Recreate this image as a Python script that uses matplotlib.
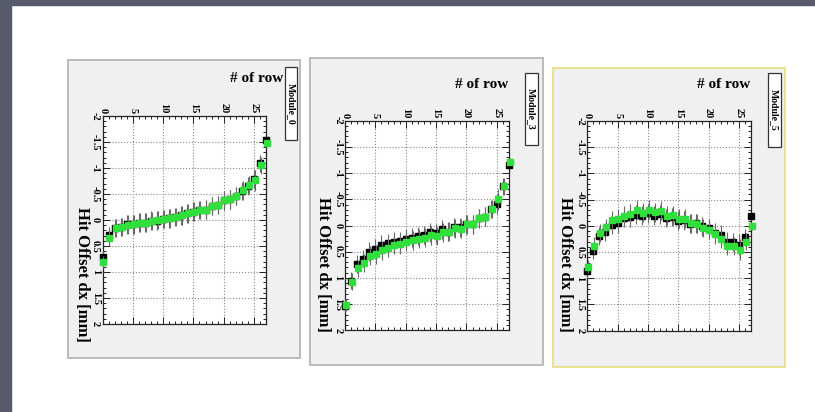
import numpy as np
import matplotlib.pyplot as plt
from matplotlib.patches import Rectangle
from matplotlib.ticker import MultipleLocator

W, H = 815, 412

# data: hit offset dx [mm] per row (black = series 1, green = series 2)
rows = np.arange(28)

m0_black = [0.72, 0.29, 0.16, 0.13, 0.08, 0.08, 0.05, 0.05, 0.01, 0.01, -0.02, -0.03, -0.06, -0.09,
            -0.13, -0.16, -0.19, -0.20, -0.27, -0.29, -0.38, -0.40, -0.46, -0.56, -0.65, -0.79, -1.09, -1.54]
m0_green = [0.81, 0.34, 0.16, 0.13, 0.09, 0.08, 0.05, 0.05, 0.02, 0.00, -0.02, -0.03, -0.06, -0.09,
            -0.13, -0.16, -0.19, -0.20, -0.27, -0.29, -0.38, -0.40, -0.46, -0.57, -0.67, -0.76, -1.05, -1.48]

m3_black = [1.53, 1.05, 0.73, 0.63, 0.50, 0.44, 0.37, 0.34, 0.31, 0.30, 0.25, 0.23, 0.20, 0.18,
            0.13, 0.15, 0.07, 0.12, 0.03, 0.03, -0.02, -0.02, -0.14, -0.17, -0.31, -0.41, -0.75, -1.15]
m3_green = [1.52, 1.07, 0.82, 0.71, 0.58, 0.55, 0.47, 0.42, 0.37, 0.36, 0.31, 0.28, 0.25, 0.23,
            0.19, 0.20, 0.13, 0.12, 0.05, 0.06, -0.02, -0.02, -0.14, -0.17, -0.31, -0.50, -0.75, -1.22]

m5_black = [0.87, 0.48, 0.19, 0.11, -0.02, -0.05, -0.15, -0.16, -0.21, -0.19, -0.24, -0.19, -0.22, -0.15,
            -0.17, -0.10, -0.11, -0.04, -0.05, 0.01, 0.04, 0.13, 0.17, 0.30, 0.31, 0.36, 0.22, -0.19]
m5_green = [0.78, 0.38, 0.13, 0.03, -0.11, -0.14, -0.19, -0.23, -0.31, -0.25, -0.31, -0.26, -0.29, -0.19,
            -0.20, -0.14, -0.14, -0.05, -0.04, 0.04, 0.08, 0.16, 0.25, 0.38, 0.39, 0.46, 0.30, 0.01]

err = [0.12, 0.16, 0.17, 0.17, 0.18, 0.18, 0.18, 0.18, 0.18, 0.18, 0.18, 0.18, 0.18, 0.18,
       0.18, 0.18, 0.18, 0.18, 0.18, 0.18, 0.18, 0.18, 0.18, 0.18, 0.17, 0.2, 0.16, 0.06]

modules = ["Module_0", "Module_3", "Module_5"]

# pixel layout of each slide panel
panels = [
    dict(box=(68, 60, 300, 358), edge="#b0b0b0", ax=(102.7, 116, 266, 324),
         title=(283, 79), mod=(285, 67, 297, 140), ylab=(82, 342),
         black=m0_black, green=m0_green),
    dict(box=(310, 58, 543, 365), edge="#b0b0b0", ax=(345, 120.7, 509, 330.3),
         title=(508, 85), mod=(525, 73, 538, 145), ylab=(323, 332),
         black=m3_black, green=m3_green),
    dict(box=(553, 68, 785, 367), edge="#e6df7a", ax=(587.3, 121, 751, 330.7),
         title=(750, 85), mod=(768, 73, 781, 147), ylab=(565, 332),
         black=m5_black, green=m5_green),
]

fig = plt.figure(figsize=(W / 100, H / 100), dpi=100)
fig.patch.set_facecolor("white")

def fx(x):
    return x / W

def fy(y):
    return 1 - y / H

# slide frame
slate = "#565a6b"
fig.patches.append(Rectangle((0, 0), fx(11), 1, transform=fig.transFigure, color=slate, zorder=-2))
fig.patches.append(Rectangle((0, fy(5)), 1, 1, transform=fig.transFigure, color=slate, zorder=-2))

serif = "Liberation Serif"

for p, name in zip(panels, modules):
    x0, y0, x1, y1 = p["box"]
    fig.patches.append(Rectangle((fx(x0), fy(y1)), fx(x1 - x0), (y1 - y0) / H,
                                 transform=fig.transFigure, facecolor="#f0f0f0",
                                 edgecolor=p["edge"], lw=1.2, zorder=-1))

    ax0, ay0, ax1, ay1 = p["ax"]
    ax = fig.add_axes([fx(ax0), fy(ay1), fx(ax1 - ax0), (ay1 - ay0) / H])
    ax.set_zorder(2)
    ax.set_facecolor("white")
    ax.set_xlim(0, 27)
    ax.set_ylim(2, -2)
    ax.xaxis.set_major_locator(MultipleLocator(5))
    ax.xaxis.set_minor_locator(MultipleLocator(1))
    ax.yaxis.set_major_locator(MultipleLocator(0.5))
    ax.yaxis.set_minor_locator(MultipleLocator(0.1))
    ax.tick_params(which="both", direction="in", top=True, right=True, bottom=True, left=True,
                   labeltop=True, labelbottom=False, color="#222222", width=0.7)
    ax.tick_params(which="major", length=5, labelsize=7.5, pad=2)
    ax.tick_params(which="minor", length=2.5)
    ax.set_xticks([0, 5, 10, 15, 20, 25])
    ax.set_xticklabels(["0", "5", "10", "15", "20", "25"], rotation=-90, fontfamily=serif,
                       fontweight="bold")
    ax.set_yticks([-2, -1.5, -1, -0.5, 0, 0.5, 1, 1.5, 2])
    ax.set_yticklabels(["-2", "-1.5", "-1", "-0.5", "0", "0.5", "1", "1.5", "2"], rotation=-90,
                       va="center", fontfamily=serif, fontweight="bold")
    ax.grid(True, which="major", ls=":", color="#888888", lw=0.8)
    for s in ax.spines.values():
        s.set_color("#222222")
        s.set_linewidth(0.9)

    ax.errorbar(rows, p["black"], yerr=err, fmt="s", color="black", ms=4,
                ecolor="#6a6a6a", elinewidth=0.8, capsize=0, clip_on=False, zorder=3)
    ax.errorbar(rows + 0.12, p["green"], yerr=err, fmt="s", color="#30de3c", ms=4,
                ecolor="#6a6a6a", elinewidth=0.8, capsize=0, clip_on=False, zorder=4)

    tx, ty = p["title"]
    fig.text(fx(tx), fy(ty), "# of row", fontsize=11, fontfamily=serif, fontweight="bold",
             ha="right", va="center", zorder=5)

    mx0, my0, mx1, my1 = p["mod"]
    fig.patches.append(Rectangle((fx(mx0), fy(my1)), fx(mx1 - mx0), (my1 - my0) / H,
                                 transform=fig.transFigure, facecolor="white",
                                 edgecolor="#333333", lw=0.9, zorder=3))
    fig.text(fx((mx0 + mx1) / 2), fy((my0 + my1) / 2), name, rotation=-90, fontsize=7,
             fontfamily=serif, fontweight="bold", ha="center", va="center", zorder=5)

    lx, ly = p["ylab"]
    fig.text(fx(lx), fy(ly), "Hit Offset dx [mm]", rotation=-90, fontsize=12,
             fontfamily=serif, fontweight="bold", ha="center", va="bottom", zorder=5)

fig.savefig("out.png", dpi=100)
